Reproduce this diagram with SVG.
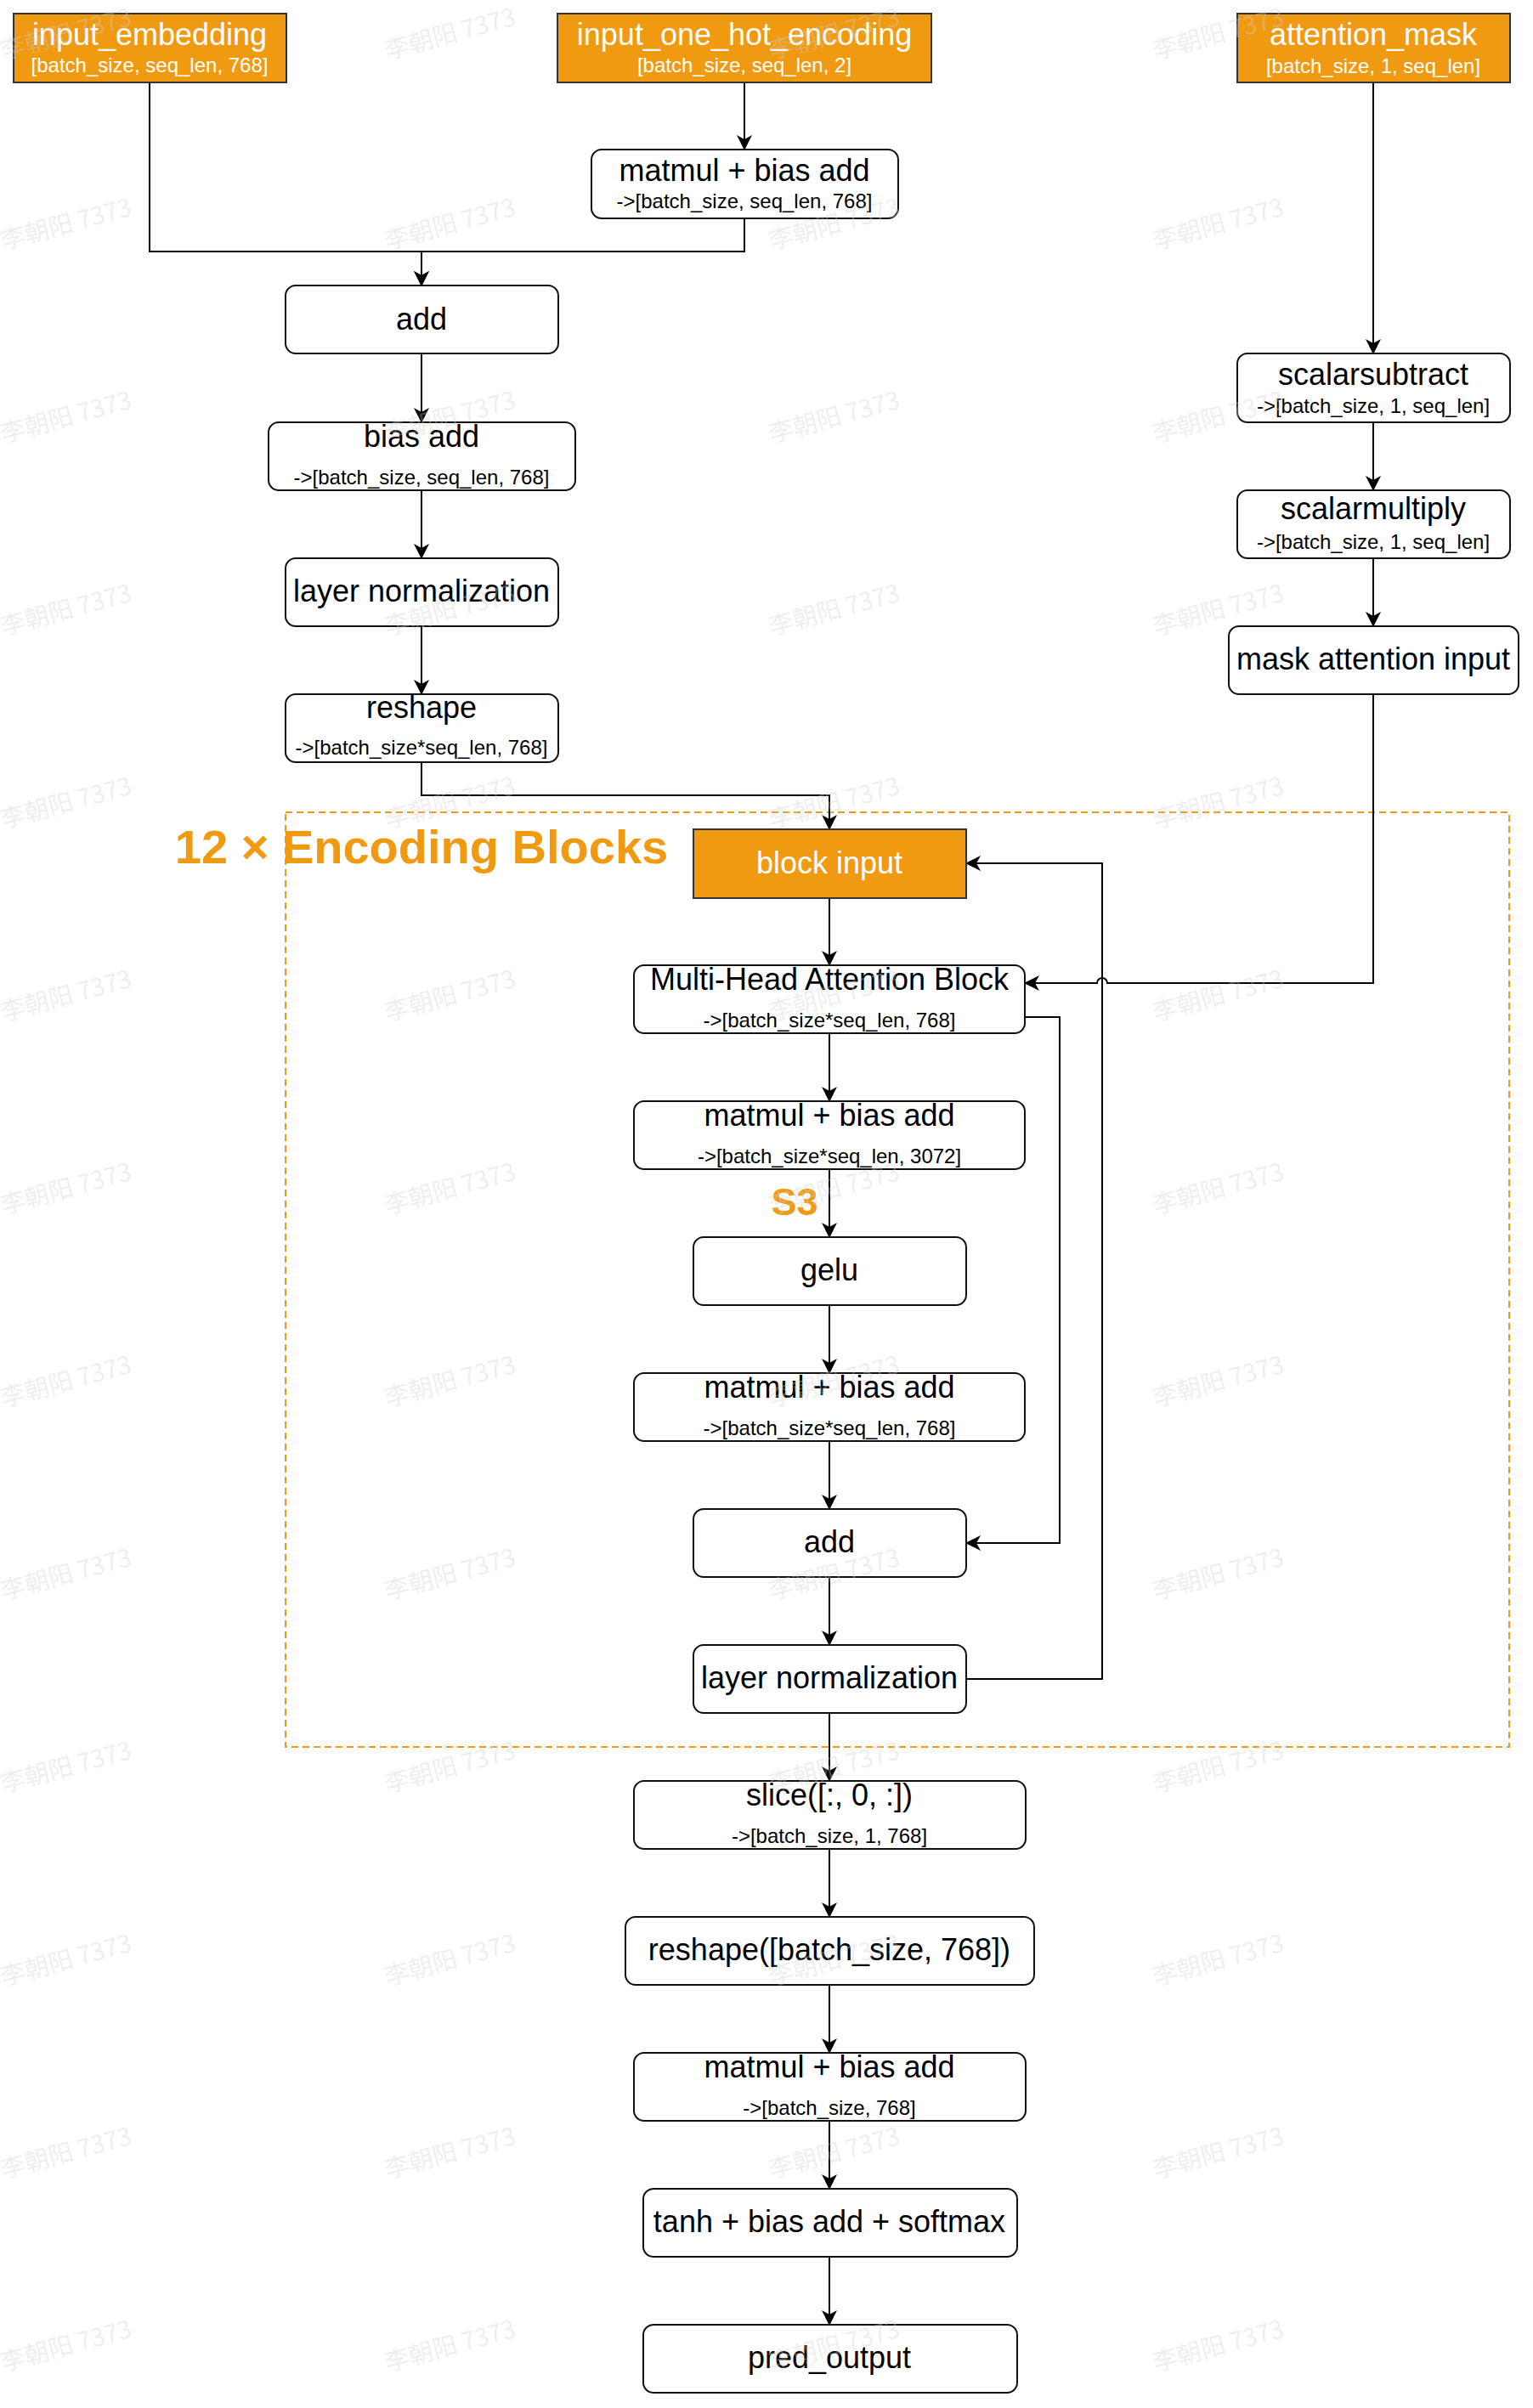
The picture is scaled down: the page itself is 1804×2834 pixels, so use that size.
<svg xmlns="http://www.w3.org/2000/svg" width="1804" height="2834" viewBox="0 0 1804 2834">
<defs>
<style>
.box{fill:#fff;stroke:#111;stroke-width:2}
.obox{fill:#F09A12;stroke:#333;stroke-width:2}
.t{font-family:"Liberation Sans",Arial,sans-serif;font-size:36px;fill:#000;text-anchor:middle}
.s{font-family:"Liberation Sans",Arial,sans-serif;font-size:24px;fill:#000;text-anchor:middle}
.ot{font-family:"Liberation Sans",Arial,sans-serif;font-size:36px;fill:#fff;text-anchor:middle}
.os{font-family:"Liberation Sans",Arial,sans-serif;font-size:24px;fill:#fff;text-anchor:middle}
.e{fill:none;stroke:#000;stroke-width:2;marker-end:url(#arr)}
.wm{font-family:"Noto Sans CJK SC","Liberation Sans",sans-serif;font-size:29px;fill:#d0d0d0;fill-opacity:0.35}
</style>
<marker id="arr" markerUnits="userSpaceOnUse" markerWidth="18" markerHeight="18" viewBox="0 0 18 18" refX="17" refY="9" orient="auto">
<path d="M0,0 L18,9 L0,18 L5,9 Z" fill="#000"/>
</marker>
</defs>
<rect width="1804" height="2834" fill="#fff"/>

<g id="encoding-blocks-group">
<rect x="336" y="956" width="1440" height="1100" fill="none" stroke="#F09A12" stroke-width="2" stroke-dasharray="8 5"/>
<text x="496" y="1016" font-family="Liberation Sans, Arial, sans-serif" font-size="56" font-weight="bold" fill="#F09A12" text-anchor="middle">12 × Encoding Blocks</text>
</g>

<g id="connectors">
<path class="e" d="M176 97 V296 H496 V336"/>
<path class="e" d="M876 257 V296 H496 V336"/>
<path class="e" d="M876 97 V176"/>
<path class="e" d="M496 416 V497"/>
<path class="e" d="M496 577 V657"/>
<path class="e" d="M496 737 V817"/>
<path class="e" d="M496 897 V936 H976 V976"/>
<path class="e" d="M1616 97 V416"/>
<path class="e" d="M1616 497 V577"/>
<path class="e" d="M1616 657 V737"/>
<path class="e" d="M1616 817 V1157 H1303 A6 6 0 0 0 1291 1157 H1206"/>
<path class="e" d="M976 1057 V1136"/>
<path class="e" d="M976 1216 V1296"/>
<path class="e" d="M976 1376 V1456"/>
<path class="e" d="M976 1536 V1616"/>
<path class="e" d="M976 1696 V1776"/>
<path class="e" d="M976 1856 V1936"/>
<path class="e" d="M1206 1197 H1247 V1816 H1137"/>
<path class="e" d="M1137 1976 H1297 V1016 H1137"/>
<path class="e" d="M976 2016 V2096"/>
<path class="e" d="M976 2176 V2256"/>
<path class="e" d="M976 2336 V2416"/>
<path class="e" d="M976 2496 V2576"/>
<path class="e" d="M976 2656 V2736"/>
</g>

<g id="input_embedding">
<rect class="obox" x="16" y="16" width="321" height="81"/>
<text class="ot" x="176" y="53">input_embedding</text>
<text class="os" x="176" y="85">[batch_size, seq_len, 768]</text>
</g>
<g id="input_one_hot_encoding">
<rect class="obox" x="656" y="16" width="440" height="81"/>
<text class="ot" x="876" y="53">input_one_hot_encoding</text>
<text class="os" x="876" y="85">[batch_size, seq_len, 2]</text>
</g>
<g id="attention_mask">
<rect class="obox" x="1456" y="16" width="321" height="81"/>
<text class="ot" x="1616" y="53">attention_mask</text>
<text class="os" x="1616" y="86">[batch_size, 1, seq_len]</text>
</g>
<g id="matmul_onehot">
<rect class="box" x="696" y="176" width="361" height="81" rx="12"/>
<text class="t" x="876" y="213">matmul + bias add</text>
<text class="s" x="876" y="245">-&gt;[batch_size, seq_len, 768]</text>
</g>
<g id="add_embed">
<rect class="box" x="336" y="336" width="321" height="80" rx="12"/>
<text class="t" x="496" y="388">add</text>
</g>
<g id="bias_add">
<rect class="box" x="316" y="497" width="361" height="80" rx="12"/>
<text class="t" x="496" y="526">bias add</text>
<text class="s" x="496" y="570">-&gt;[batch_size, seq_len, 768]</text>
</g>
<g id="layer_norm_embed">
<rect class="box" x="336" y="657" width="321" height="80" rx="12"/>
<text class="t" x="496" y="708">layer normalization</text>
</g>
<g id="reshape_embed">
<rect class="box" x="336" y="817" width="321" height="80" rx="12"/>
<text class="t" x="496" y="845">reshape</text>
<text class="s" x="496" y="888">-&gt;[batch_size*seq_len, 768]</text>
</g>
<g id="scalarsubtract">
<rect class="box" x="1456" y="416" width="321" height="81" rx="12"/>
<text class="t" x="1616" y="453">scalarsubtract</text>
<text class="s" x="1616" y="486">-&gt;[batch_size, 1, seq_len]</text>
</g>
<g id="scalarmultiply">
<rect class="box" x="1456" y="577" width="321" height="80" rx="12"/>
<text class="t" x="1616" y="611">scalarmultiply</text>
<text class="s" x="1616" y="646">-&gt;[batch_size, 1, seq_len]</text>
</g>
<g id="mask_attention_input">
<rect class="box" x="1446" y="737" width="341" height="80" rx="12"/>
<text class="t" x="1616" y="788">mask attention input</text>
</g>
<g id="block_input">
<rect class="obox" x="816" y="976" width="321" height="81"/>
<text class="ot" x="976" y="1028">block input</text>
</g>
<g id="multi_head_attention">
<rect class="box" x="746" y="1136" width="460" height="80" rx="12"/>
<text class="t" x="976" y="1165">Multi-Head Attention Block</text>
<text class="s" x="976" y="1209">-&gt;[batch_size*seq_len, 768]</text>
</g>
<g id="matmul_3072">
<rect class="box" x="746" y="1296" width="460" height="80" rx="12"/>
<text class="t" x="976" y="1325">matmul + bias add</text>
<text class="s" x="976" y="1369">-&gt;[batch_size*seq_len, 3072]</text>
</g>
<g id="s3_label">
<text x="935" y="1430" font-family="Liberation Sans, Arial, sans-serif" font-size="45" font-weight="bold" fill="#F09A12" text-anchor="middle">S3</text>
</g>
<g id="gelu">
<rect class="box" x="816" y="1456" width="321" height="80" rx="12"/>
<text class="t" x="976" y="1507">gelu</text>
</g>
<g id="matmul_768">
<rect class="box" x="746" y="1616" width="460" height="80" rx="12"/>
<text class="t" x="976" y="1645">matmul + bias add</text>
<text class="s" x="976" y="1689">-&gt;[batch_size*seq_len, 768]</text>
</g>
<g id="add_residual">
<rect class="box" x="816" y="1776" width="321" height="80" rx="12"/>
<text class="t" x="976" y="1827">add</text>
</g>
<g id="layer_norm_block">
<rect class="box" x="816" y="1936" width="321" height="80" rx="12"/>
<text class="t" x="976" y="1987">layer normalization</text>
</g>
<g id="slice">
<rect class="box" x="746" y="2096" width="461" height="80" rx="12"/>
<text class="t" x="976" y="2125">slice([:, 0, :])</text>
<text class="s" x="976" y="2169">-&gt;[batch_size, 1, 768]</text>
</g>
<g id="reshape_out">
<rect class="box" x="736" y="2256" width="481" height="80" rx="12"/>
<text class="t" x="976" y="2307">reshape([batch_size, 768])</text>
</g>
<g id="matmul_out">
<rect class="box" x="746" y="2416" width="461" height="80" rx="12"/>
<text class="t" x="976" y="2445">matmul + bias add</text>
<text class="s" x="976" y="2489">-&gt;[batch_size, 768]</text>
</g>
<g id="tanh_softmax">
<rect class="box" x="757" y="2576" width="440" height="80" rx="12"/>
<text class="t" x="976" y="2627">tanh + bias add + softmax</text>
</g>
<g id="pred_output">
<rect class="box" x="757" y="2736" width="440" height="80" rx="12"/>
<text class="t" x="976" y="2787">pred_output</text>
</g>

<g id="watermark" class="wm">
<text transform="translate(4,70) rotate(-15)">李朝阳 7373</text>
<text transform="translate(456,70) rotate(-15)">李朝阳 7373</text>
<text transform="translate(908,70) rotate(-15)">李朝阳 7373</text>
<text transform="translate(1360,70) rotate(-15)">李朝阳 7373</text>
<text transform="translate(4,294) rotate(-15)">李朝阳 7373</text>
<text transform="translate(456,294) rotate(-15)">李朝阳 7373</text>
<text transform="translate(908,294) rotate(-15)">李朝阳 7373</text>
<text transform="translate(1360,294) rotate(-15)">李朝阳 7373</text>
<text transform="translate(4,521) rotate(-15)">李朝阳 7373</text>
<text transform="translate(456,521) rotate(-15)">李朝阳 7373</text>
<text transform="translate(908,521) rotate(-15)">李朝阳 7373</text>
<text transform="translate(1360,521) rotate(-15)">李朝阳 7373</text>
<text transform="translate(4,748) rotate(-15)">李朝阳 7373</text>
<text transform="translate(456,748) rotate(-15)">李朝阳 7373</text>
<text transform="translate(908,748) rotate(-15)">李朝阳 7373</text>
<text transform="translate(1360,748) rotate(-15)">李朝阳 7373</text>
<text transform="translate(4,975) rotate(-15)">李朝阳 7373</text>
<text transform="translate(456,975) rotate(-15)">李朝阳 7373</text>
<text transform="translate(908,975) rotate(-15)">李朝阳 7373</text>
<text transform="translate(1360,975) rotate(-15)">李朝阳 7373</text>
<text transform="translate(4,1202) rotate(-15)">李朝阳 7373</text>
<text transform="translate(456,1202) rotate(-15)">李朝阳 7373</text>
<text transform="translate(908,1202) rotate(-15)">李朝阳 7373</text>
<text transform="translate(1360,1202) rotate(-15)">李朝阳 7373</text>
<text transform="translate(4,1429) rotate(-15)">李朝阳 7373</text>
<text transform="translate(456,1429) rotate(-15)">李朝阳 7373</text>
<text transform="translate(908,1429) rotate(-15)">李朝阳 7373</text>
<text transform="translate(1360,1429) rotate(-15)">李朝阳 7373</text>
<text transform="translate(4,1656) rotate(-15)">李朝阳 7373</text>
<text transform="translate(456,1656) rotate(-15)">李朝阳 7373</text>
<text transform="translate(908,1656) rotate(-15)">李朝阳 7373</text>
<text transform="translate(1360,1656) rotate(-15)">李朝阳 7373</text>
<text transform="translate(4,1883) rotate(-15)">李朝阳 7373</text>
<text transform="translate(456,1883) rotate(-15)">李朝阳 7373</text>
<text transform="translate(908,1883) rotate(-15)">李朝阳 7373</text>
<text transform="translate(1360,1883) rotate(-15)">李朝阳 7373</text>
<text transform="translate(4,2110) rotate(-15)">李朝阳 7373</text>
<text transform="translate(456,2110) rotate(-15)">李朝阳 7373</text>
<text transform="translate(908,2110) rotate(-15)">李朝阳 7373</text>
<text transform="translate(1360,2110) rotate(-15)">李朝阳 7373</text>
<text transform="translate(4,2337) rotate(-15)">李朝阳 7373</text>
<text transform="translate(456,2337) rotate(-15)">李朝阳 7373</text>
<text transform="translate(908,2337) rotate(-15)">李朝阳 7373</text>
<text transform="translate(1360,2337) rotate(-15)">李朝阳 7373</text>
<text transform="translate(4,2564) rotate(-15)">李朝阳 7373</text>
<text transform="translate(456,2564) rotate(-15)">李朝阳 7373</text>
<text transform="translate(908,2564) rotate(-15)">李朝阳 7373</text>
<text transform="translate(1360,2564) rotate(-15)">李朝阳 7373</text>
<text transform="translate(4,2791) rotate(-15)">李朝阳 7373</text>
<text transform="translate(456,2791) rotate(-15)">李朝阳 7373</text>
<text transform="translate(908,2791) rotate(-15)">李朝阳 7373</text>
<text transform="translate(1360,2791) rotate(-15)">李朝阳 7373</text>
</g>
</svg>
